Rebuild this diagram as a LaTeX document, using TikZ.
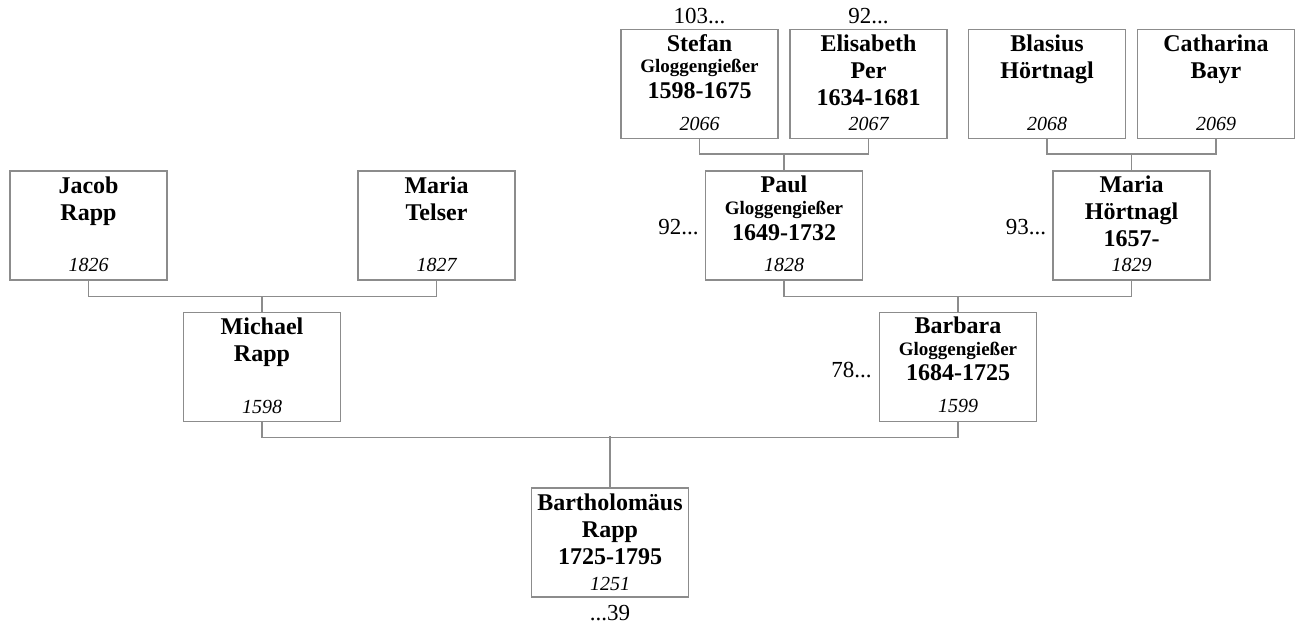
\documentclass[tikz,border=0pt]{standalone}
\usepackage{fontspec}
\setmainfont{Liberation Serif}
\definecolor{linegray}{RGB}{140,140,140}
\newcommand{\smallname}[1]{{\fontsize{19}{21}\selectfont #1}}
\tikzset{
  person/.style={draw=linegray, line width=1.2pt, minimum width=157pt,
    minimum height=109pt, inner sep=0pt},
  names/.style={anchor=north, align=center, inner sep=0pt,
    font=\fontsize{24}{27}\selectfont\bfseries,
    execute at begin node=\rule{0pt}{18pt}},
  refno/.style={anchor=base, inner sep=0pt,
    font=\fontsize{20}{24}\selectfont\itshape},
  more/.style={inner sep=0pt, font=\fontsize{23}{27}\selectfont},
  link/.style={draw=linegray, line width=1.2pt}
}

\begin{document}
\begin{tikzpicture}[x=1pt, y=-1pt]
  \useasboundingbox (0,0) rectangle (1300,628);
  \node[person] (jacob) at (88.5,225.5) {};
  \node[names] (jacobn) at ([yshift=-6pt]jacob.north) {Jacob\\Rapp};
  \node[refno] (jacobr) at ([yshift=9pt]jacob.south) {1826};
  \node[person] (telser) at (436.5,225.5) {};
  \node[names] (telsern) at ([yshift=-6pt]telser.north) {Maria\\Telser};
  \node[refno] (telserr) at ([yshift=9pt]telser.south) {1827};
  \node[person] (michael) at (262,367) {};
  \node[names] (michaeln) at ([yshift=-6pt]michael.north) {Michael\\Rapp};
  \node[refno] (michaelr) at ([yshift=9pt]michael.south) {1598};

  \node[person] (stefan) at (699.5,84) {};
  \node[names] (stefann) at ([yshift=-6pt]stefan.north)
    {Stefan\\[-6pt]\smallname{Gloggengießer}\\[-1pt]1598-1675};
  \node[refno] (stefanr) at ([yshift=9pt]stefan.south) {2066};
  \node[more, anchor=base] (stefanm) at ([yshift=5pt]stefan.north) {103...};
  \node[person] (elisabeth) at (868.5,84) {};
  \node[names] (elisabethn) at ([yshift=-6pt]elisabeth.north)
    {Elisabeth\\Per\\1634-1681};
  \node[refno] (elisabethr) at ([yshift=9pt]elisabeth.south) {2067};
  \node[more, anchor=base] (elisabethm) at ([yshift=5pt]elisabeth.north) {92...};
  \node[person] (blasius) at (1047,84) {};
  \node[names] (blasiusn) at ([yshift=-6pt]blasius.north) {Blasius\\Hörtnagl};
  \node[refno] (blasiusr) at ([yshift=9pt]blasius.south) {2068};
  \node[person] (catharina) at (1216,84) {};
  \node[names] (catharinan) at ([yshift=-6pt]catharina.north) {Catharina\\Bayr};
  \node[refno] (catharinar) at ([yshift=9pt]catharina.south) {2069};

  \node[person] (paul) at (784,225.5) {};
  \node[names] (pauln) at ([yshift=-5pt]paul.north)
    {Paul\\[-5pt]\smallname{Gloggengießer}\\[-1pt]1649-1732};
  \node[refno] (paulr) at ([yshift=9pt]paul.south) {1828};
  \node[more, anchor=base east] (paulm) at ([xshift=-6pt,yshift=-9pt]paul.west) {92...};
  \node[person] (mariah) at (1131.5,225.5) {};
  \node[names] (mariahn) at ([yshift=-5pt]mariah.north)
    {Maria\\Hörtnagl\\1657-};
  \node[refno] (mariahr) at ([yshift=9pt]mariah.south) {1829};
  \node[more, anchor=base east] (mariahm) at ([xshift=-6pt,yshift=-9pt]mariah.west) {93...};

  \node[person] (barbara) at (958,367) {};
  \node[names] (barbaran) at ([yshift=-5pt]barbara.north)
    {Barbara\\[-5pt]\smallname{Gloggengießer}\\[-2pt]1684-1725};
  \node[refno] (barbarar) at ([yshift=10pt]barbara.south) {1599};
  \node[more, anchor=base east] (barbaram) at ([xshift=-7pt,yshift=-10pt]barbara.west) {78...};

  \node[person] (bart) at (610,542.5) {};
  \node[names] (bartn) at ([yshift=-6pt]bart.north)
    {Bartholomäus\\Rapp\\1725-1795};
  \node[refno] (bartr) at ([yshift=7pt]bart.south) {1251};
  \node[more, anchor=base] (bartm) at ([yshift=-23pt]bart.south) {...39};

  \draw[link] (jacob.south) -- ++(0,16) -| (telser.south);
  \draw[link] (michael.north) -- ++(0,-16);
  \draw[link] (stefan.south) -- ++(0,15) -| (elisabeth.south);
  \draw[link] (paul.north) -- ++(0,-17);
  \draw[link] (blasius.south) -- ++(0,15) -| (catharina.south);
  \draw[link] (mariah.north) -- ++(0,-17);
  \draw[link] (paul.south) -- ++(0,16) -| (mariah.south);
  \draw[link] (barbara.north) -- ++(0,-16);
  \draw[link] (michael.south) -- ++(0,15) -| (barbara.south);
  \draw[link] (bart.north) -- ++(0,-51);
\end{tikzpicture}
\end{document}
